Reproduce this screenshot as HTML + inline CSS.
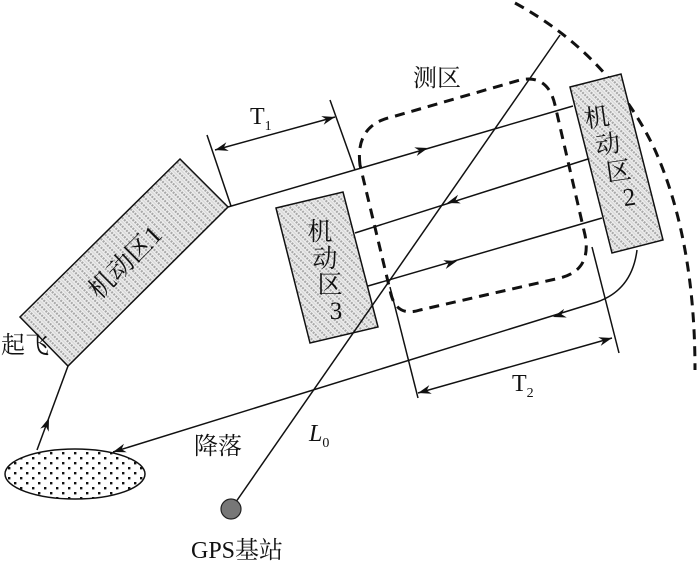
<!DOCTYPE html>
<html><head><meta charset="utf-8"><style>
html,body{margin:0;padding:0;background:#fff;}
svg{display:block;}
text{font-family:"Liberation Serif","Noto Serif CJK SC",serif;fill:#111;}
</style></head><body>
<svg width="700" height="563" viewBox="0 0 700 563" xmlns="http://www.w3.org/2000/svg">
<defs>
<pattern id="h" width="6" height="6" patternUnits="userSpaceOnUse" patternTransform="rotate(45)">
<rect width="6" height="6" fill="#f2f2f2"/>
<line x1="0" y1="1.5" x2="6" y2="1.5" stroke="#a8a8a8" stroke-width="2.2" stroke-dasharray="2,1"/>
<line x1="0" y1="4.5" x2="6" y2="4.5" stroke="#d8d8d8" stroke-width="1.5"/>
</pattern>
<pattern id="d" width="12" height="10" patternUnits="userSpaceOnUse">
<rect width="12" height="10" fill="#fff"/>
<rect x="2" y="2" width="2.4" height="2.4" fill="#111"/>
<rect x="8" y="7" width="2.4" height="2.4" fill="#111"/>
</pattern>
<path id="ah" d="M0,0 L-13,-4.5 L-9,0 L-13,4.5 Z" fill="#111"/>
</defs>

<g stroke="#111" stroke-width="1.5" fill="none">
<path d="M515,3 Q610,55 655,150 Q695,240 695,370" stroke-width="3" stroke-dasharray="10,7"/>
<path d="M360,165 Q355,125 392,117 L520,80 Q548,74 555,105 L585,235 Q592,270 560,278 L420,310 Q395,318 390,290 Z" stroke-width="3" stroke-dasharray="10,7"/>
</g>

<g stroke="#111" stroke-width="1.5" fill="url(#h)">
<polygon points="180,159 228,207 68,366 20,317"/>
<polygon points="276,208 343,192 378,327 310,343"/>
<polygon points="570,87 621,74 663,240 612,253"/>
</g>

<g stroke="#111" stroke-width="1.5" fill="none">
<line x1="228" y1="207" x2="573" y2="106"/>
<line x1="588" y1="159" x2="355" y2="233"/>
<line x1="368" y1="286" x2="602" y2="218"/>
<path d="M637,250 Q632,290 597,302 L113,452"/>
<line x1="37" y1="450" x2="68" y2="366"/>
<line x1="207" y1="135" x2="231" y2="206"/>
<line x1="330" y1="100" x2="355" y2="170"/>
<line x1="215" y1="150" x2="335" y2="117"/>
<line x1="390" y1="287" x2="418" y2="398"/>
<line x1="592" y1="247" x2="619" y2="353"/>
<line x1="418" y1="393" x2="612" y2="338"/>
<line x1="560" y1="35" x2="231" y2="509"/>
</g>
<use href="#ah" transform="translate(428,148) rotate(-16.3)"/>
<use href="#ah" transform="translate(447,203) rotate(162.4)"/>
<use href="#ah" transform="translate(457,261) rotate(-16.2)"/>
<use href="#ah" transform="translate(49,418) rotate(-69.7)"/>
<use href="#ah" transform="translate(553,317) rotate(163)"/>
<use href="#ah" transform="translate(113,452) rotate(162)"/>
<use href="#ah" transform="translate(215,150) rotate(164.6)"/>
<use href="#ah" transform="translate(335,117) rotate(-15.4)"/>
<use href="#ah" transform="translate(418,393) rotate(164.2)"/>
<use href="#ah" transform="translate(612,338) rotate(-15.8)"/>

<ellipse cx="75" cy="474" rx="70" ry="25" fill="url(#d)" stroke="#111" stroke-width="1.5"/>
<circle cx="231" cy="509" r="10" fill="#777" stroke="#222" stroke-width="1.2"/>

<text x="125" y="271" font-size="26" text-anchor="middle" transform="rotate(-45 125 262)">机动区1</text>
<g font-size="25" text-anchor="middle">
<text x="320" y="240">机</text>
<text x="325" y="267">动</text>
<text x="330" y="293">区</text>
<text x="336" y="319">3</text>
</g>
<g font-size="25" text-anchor="middle" transform="rotate(-8 615 160)">
<text x="603" y="124">机</text>
<text x="610" y="152">动</text>
<text x="617" y="180">区</text>
<text x="624" y="207">2</text>
</g>
<text x="413" y="86" font-size="24">测区</text>
<text x="250" y="124" font-size="24">T<tspan font-size="14" dy="6">1</tspan></text>
<text x="512" y="391" font-size="24">T<tspan font-size="14" dy="6">2</tspan></text>
<text x="1" y="353" font-size="24">起飞</text>
<text x="194" y="454" font-size="24">降落</text>
<text x="309" y="441" font-size="24" font-style="italic">L<tspan font-size="14" font-style="normal" dy="6">0</tspan></text>
<text x="237" y="558" font-size="24" text-anchor="middle">GPS基站</text>
</svg>
</body></html>
